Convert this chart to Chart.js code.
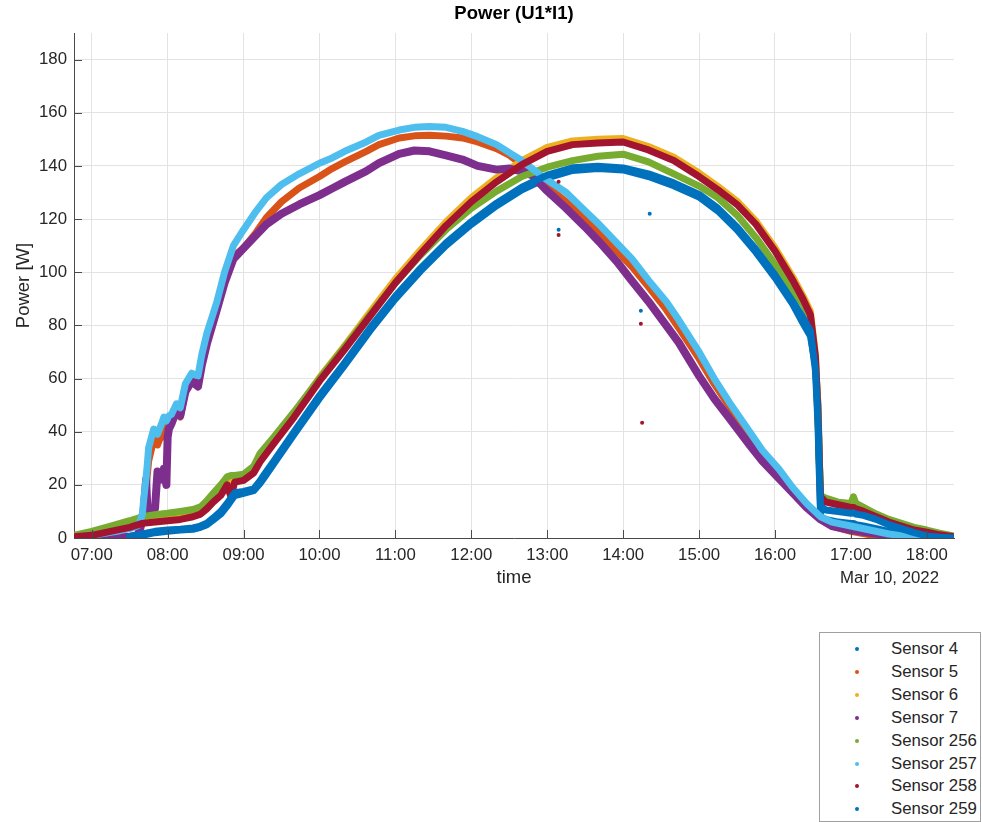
<!DOCTYPE html>
<html>
<head>
<meta charset="utf-8">
<title>Power (U1*I1)</title>
<script src="https://cdn.jsdelivr.net/npm/chart.js@4.4.1/dist/chart.umd.min.js"></script>
<style>
body{margin:0;background:#fff;width:982px;height:822px;overflow:hidden;position:relative;font-family:"Liberation Sans",Arial,sans-serif;}
#plot{position:absolute;left:0;top:0;width:982px;height:600px;}
#legend{position:absolute;left:819px;top:632px;width:162px;height:190px;border:1px solid #a0a0a0;background:#fff;box-sizing:border-box;}
#legend .row{position:absolute;left:0;height:22px;line-height:22px;font-size:16.8px;color:#262626;white-space:nowrap;}
#legend .dot{position:absolute;left:35px;top:9px;width:4px;height:4px;border-radius:2px;}
#legend .txt{position:absolute;left:71px;top:0;}
</style>
</head>
<body>
<div id="plot"><canvas id="power"></canvas></div>
<div id="legend"></div>
<script>
//time stamps for the sensors that peak in the afternoon
const timeA = ['06:46','07:00','07:15','07:30','07:40','07:50','08:00','08:10','08:20','08:26',
	'08:31','08:36','08:42','08:47','08:50','08:53','09:00','09:08','09:13','09:16',
	'09:24','09:40','10:00','10:20','10:40','11:00','11:20','11:40','12:00','12:20',
	'12:40','13:00','13:20','13:40','14:00','14:20','14:40','15:00','15:15','15:30',
	'15:45','16:00','16:14','16:22','16:28','16:32','16:34','16:35','16:36','16:40',
	'16:50','17:00','17:02','17:04','17:10','17:20','17:30','17:40','17:50','18:00',
	'18:10','18:21'];

//null = no reading yet
const sensor4 = [null,null,null,0.3,1,2,2.5,3,3.3,4,
	5,6.8,9,12,14,16,16.8,17.8,20.5,22.5,
	28,39,52.5,65,78,90,100.5,110,118,125,
	131,135.5,138.3,139,138.5,136,132.5,128.3,123,116,
	107.5,98,88,81,76,65,50,30,8,7,
	6,5.5,5.5,5,4.5,3.5,2.5,1.5,0.8,0.3,
	0,0];
const sensor6 = [0.6,1.2,2.8,4.3,5.8,6.4,7,7.6,8.7,9.8,
	12,14.5,17,20.5,21,21.8,22.6,25.4,29.6,31.6,
	36.8,46.8,60.3,72.4,85,97.4,108.4,118.9,128,135.5,
	142,147,149.4,150,150.3,147.3,143.3,137.3,132.2,126.7,
	119.2,109.2,98.2,91.2,85.2,69,48,31,16,14.2,
	13,12,12,11.5,10.5,8.4,6.4,4.9,3.4,2.5,
	1.4,0.6];
const sensor256 = [1,2.5,4.5,6.5,8,8.8,9.3,10,10.7,11.7,
	14,16.8,20,23,23.5,23.5,24,27,31.8,33.5,
	38,47.5,60,72,84,96,106.5,116,124,130.5,
	136,139.5,142,143.6,144.4,141.5,137,132.4,128,121.5,
	113,103,93,88,83,66,45,30,16,15,
	13.5,13,15.5,13,11.5,9,7,5.5,4,3,
	1.8,0.8];
const sensor258 = [0.5,1,2.5,4,5.5,6,6.5,7,8,9,
	11,13.5,16,20,15.5,21,21.7,24.5,28.6,30.5,
	35.6,45.5,59,71,83.5,96,107,117.5,126.5,134,
	140.5,145.5,148,148.6,149,146,142,136,131,125.5,
	118,108,97,90,84,68,47,30,15.5,13.6,
	12.5,11.5,11.5,11,10,8,6,4.5,3,2.2,
	1.2,0.5];
const sensor259 = [null,null,null,0.5,1.5,2.5,3,3.3,3.8,4.5,
	5.6,7.5,10,13,15,17,17.5,18.5,21.5,23.6,
	29,40,53.6,66,79,91,101.5,111,119,126,
	132,136.5,139.3,139.9,139.2,137,133.6,129.3,124,117,
	108.5,99,89,83,78,63,43,25,12,10.5,
	10,9.3,9.5,9,8.5,7,5,3.5,2,0.8,
	0.3,0];

//time stamps for the sensors that peak before noon
const timeM = ['06:46','07:00','07:20','07:30','07:36','07:38','07:40','07:41','07:43','07:44',
	'07:45','07:49','07:50','07:52','07:56','07:57','07:59','08:00','08:01','08:03',
	'08:07','08:10','08:14','08:19','08:24','08:27','08:31','08:39','08:45','08:52',
	'09:00','09:10','09:18','09:30','09:44','10:00','10:10','10:20','10:37','10:47',
	'11:03','11:15','11:27','11:40','11:53','12:05','12:20','12:30','12:40','12:48',
	'12:59','13:15','13:30','13:41','13:55','14:07','14:20','14:34','14:44','15:00',
	'15:12','15:24','15:40','15:50','16:03','16:14','16:25','16:36','16:45','17:00',
	'17:15','17:30','17:45','17:55'];

const sensor5 = [0,0.3,0.5,0.3,1,2,6,10,19,24,
	29,37,37,35,40,38,41,43,44,45,
	48.5,45.5,55,59,57,66,74,86.5,97,106,
	109,115,120.5,126.5,131.7,136,139,141.5,145.5,148,
	150.5,151.3,151.5,151.2,150.5,149,146.5,144,140.5,137,
	132.5,126.5,120,114.5,108,102,94.5,86,79,67.5,
	58,49.5,38.5,32,25,18.5,12.5,7.5,4.5,2.5,
	1.2,0.5,0,0];
const sensor7 = [0,0,0.3,0.5,1,3,8,10,22,11,
	10,10.5,11,25,22,26,20,38,41,43,
	48,46,55,59,57,65,73,86,96,105,
	109,114,118,122,125.5,129,131.5,134,138,141,
	144.5,145.8,145.5,144,142.4,140,138.6,139,138,136.5,
	131,124,117,111.5,104,96.7,89,80,73.5,61,
	52.5,45,35,29,22.5,17,11.5,7,4.5,3,
	2,1,0.3,0];
const sensor257 = [0.3,1,2.5,3.5,4.5,6,9,14,23,28,
	34,41,40.5,39,44,45.5,44,45,46,46.5,
	50.5,49,58,62,61,69,77,89,100,110,
	116,123,128,133,137,141,143,145.5,149,151.5,
	153.5,154.5,154.8,154.5,153,151,148,145,142,139,
	135,130,123,118,111,105,97,89,82,70,
	60,51,40,33,26,19,13,8,6,4.5,
	3,1.5,0.5,0];

//isolated readings away from the main bands
const strayTimes = ['13:09','13:09','13:09','14:14','14:14','14:15','14:21'];
const strayValues = [134,116,114,85.5,80.6,43.4,122];
const straySensor = [6,0,6,0,6,6,0]; //index into sensorNames

//axis ticks
const hourTicks = ['07:00','08:00','09:00','10:00','11:00','12:00','13:00','14:00','15:00','16:00','17:00','18:00'];
const powerTicks = [0,20,40,60,80,100,120,140,160,180];

const sensorNames = ['Sensor 4','Sensor 5','Sensor 6','Sensor 7','Sensor 256','Sensor 257','Sensor 258','Sensor 259'];
const sensorColors = ['#0072BD','#D95319','#EDB120','#7E2F8E','#77AC30','#4DBEEE','#A2142F','#0072BD'];
const sensorTimes = [timeA,timeM,timeA,timeM,timeA,timeM,timeA,timeA];
const sensorValues = [sensor4,sensor5,sensor6,sensor7,sensor256,sensor257,sensor258,sensor259];

const textColor = '#262626';
const axisColor = '#4a4a4a';
const fontFamily = '"Liberation Sans", Arial, sans-serif';

/////////////////////////////////////////////////////////
//functions

//turns 'hh:mm' into minutes after midnight
function toMin(s){
	const parts = s.split(':');
	return Number(parts[0])*60 + Number(parts[1]);
}

//minutes after midnight back to 'hh:mm'
function toClock(m){
	const h = Math.floor(m/60);
	const mm = Math.round(m - h*60);
	return String(h).padStart(2,'0') + ':' + String(mm).padStart(2,'0');
}

function toPoints(times, values){
	let pts = [];
	for(let i=0; i<times.length; i++){
		pts.push({x:toMin(times[i]), y:values[i]});
	}
	return pts;
}

//inward tick marks (matlab style) and the date under the last tick
const axisExtras = {
	id:'axisExtras',
	afterDraw(chart){
		const ctx = chart.ctx;
		const area = chart.chartArea;
		const xs = chart.scales.x;
		const ys = chart.scales.y;
		ctx.save();
		ctx.strokeStyle = axisColor;
		ctx.lineWidth = 1;
		ctx.beginPath();
		xs.ticks.forEach(function(t){
			const px = Math.round(xs.getPixelForValue(t.value)) + 0.5;
			ctx.moveTo(px, area.bottom);
			ctx.lineTo(px, area.bottom - 8);
		});
		ys.ticks.forEach(function(t){
			const py = Math.round(ys.getPixelForValue(t.value)) + 0.5;
			ctx.moveTo(area.left, py);
			ctx.lineTo(area.left + 8, py);
		});
		ctx.stroke();

		ctx.fillStyle = textColor;
		ctx.font = '16.8px ' + fontFamily;
		ctx.textAlign = 'right';
		ctx.textBaseline = 'middle';
		ctx.fillText('Mar 10, 2022', area.right - 15, area.bottom + 40);
		ctx.restore();
	}
};

///////////////////////////////////////////////////////////////////////////////
//chart

Chart.defaults.font.family = fontFamily;
Chart.defaults.color = textColor;

let datasets = [];
for(let i=0; i<sensorNames.length; i++){
	datasets.push({
		label:sensorNames[i],
		data:toPoints(sensorTimes[i], sensorValues[i]),
		borderColor:sensorColors[i],
		backgroundColor:sensorColors[i],
		borderWidth:(i == 3) ? 8 : 7,
		pointRadius:0,
		tension:0,
		spanGaps:false,
		borderJoinStyle:'round',
		borderCapStyle:'round',
		order:7 - i
	});
}

let strayPoints = toPoints(strayTimes, strayValues);
datasets.push({
	label:'stray',
	data:strayPoints,
	showLine:false,
	pointRadius:2,
	pointBorderWidth:0,
	pointBackgroundColor:straySensor.map(function(k){ return sensorColors[k]; }),
	order:-1
});

let ctx1 = document.getElementById('power');

const powerChart = new Chart(ctx1, {
	type:'line',
	data:{datasets:datasets},
	plugins:[axisExtras],
	options:{
		responsive:true,
		maintainAspectRatio:false,
		animation:false,
		layout:{padding:{left:0, top:0, right:28, bottom:0}},
		plugins:{
			legend:{display:false},
			tooltip:{enabled:false},
			title:{
				display:true,
				text:'Power (U1*I1)',
				color:'#000',
				fullSize:false,
				font:{size:18.5, weight:'bold'},
				padding:{top:3, bottom:7.8}
			}
		},
		scales:{
			x:{
				type:'linear',
				min:406,
				max:1101.5,
				afterBuildTicks:function(scale){
					scale.ticks = hourTicks.map(function(t){ return {value:toMin(t)}; });
				},
				afterFit:function(scale){ scale.height = 62; },
				grid:{color:'#e3e3e3', lineWidth:1, drawTicks:false},
				border:{display:true, color:axisColor, width:1},
				ticks:{
					autoSkip:false,
					maxRotation:0,
					padding:7,
					color:textColor,
					font:{size:16.8},
					callback:function(v){ return toClock(v); }
				},
				title:{display:true, text:'time', color:textColor, font:{size:18.5}, padding:{bottom:10.9}}
			},
			y:{
				min:0,
				max:190,
				afterBuildTicks:function(scale){
					scale.ticks = powerTicks.map(function(v){ return {value:v}; });
				},
				afterFit:function(scale){ scale.width = 74; },
				grid:{color:'#e3e3e3', lineWidth:1, drawTicks:false},
				border:{display:true, color:axisColor, width:1},
				ticks:{padding:7, color:textColor, font:{size:16.8}},
				title:{display:true, text:'Power [W]', color:textColor, font:{size:18.5}, padding:{top:12.9}}
			}
		}
	}
});

//legend box below the plot, filled from the sensor arrays
const legendDiv = document.getElementById('legend');
for(let i=0; i<sensorNames.length; i++){
	const row = document.createElement('div');
	row.className = 'row';
	row.style.top = (5.3 + i*22.86) + 'px';
	row.style.width = '160px';
	const dot = document.createElement('span');
	dot.className = 'dot';
	dot.style.backgroundColor = sensorColors[i];
	const txt = document.createElement('span');
	txt.className = 'txt';
	txt.textContent = sensorNames[i];
	row.appendChild(dot);
	row.appendChild(txt);
	legendDiv.appendChild(row);
}
</script>
</body>
</html>
